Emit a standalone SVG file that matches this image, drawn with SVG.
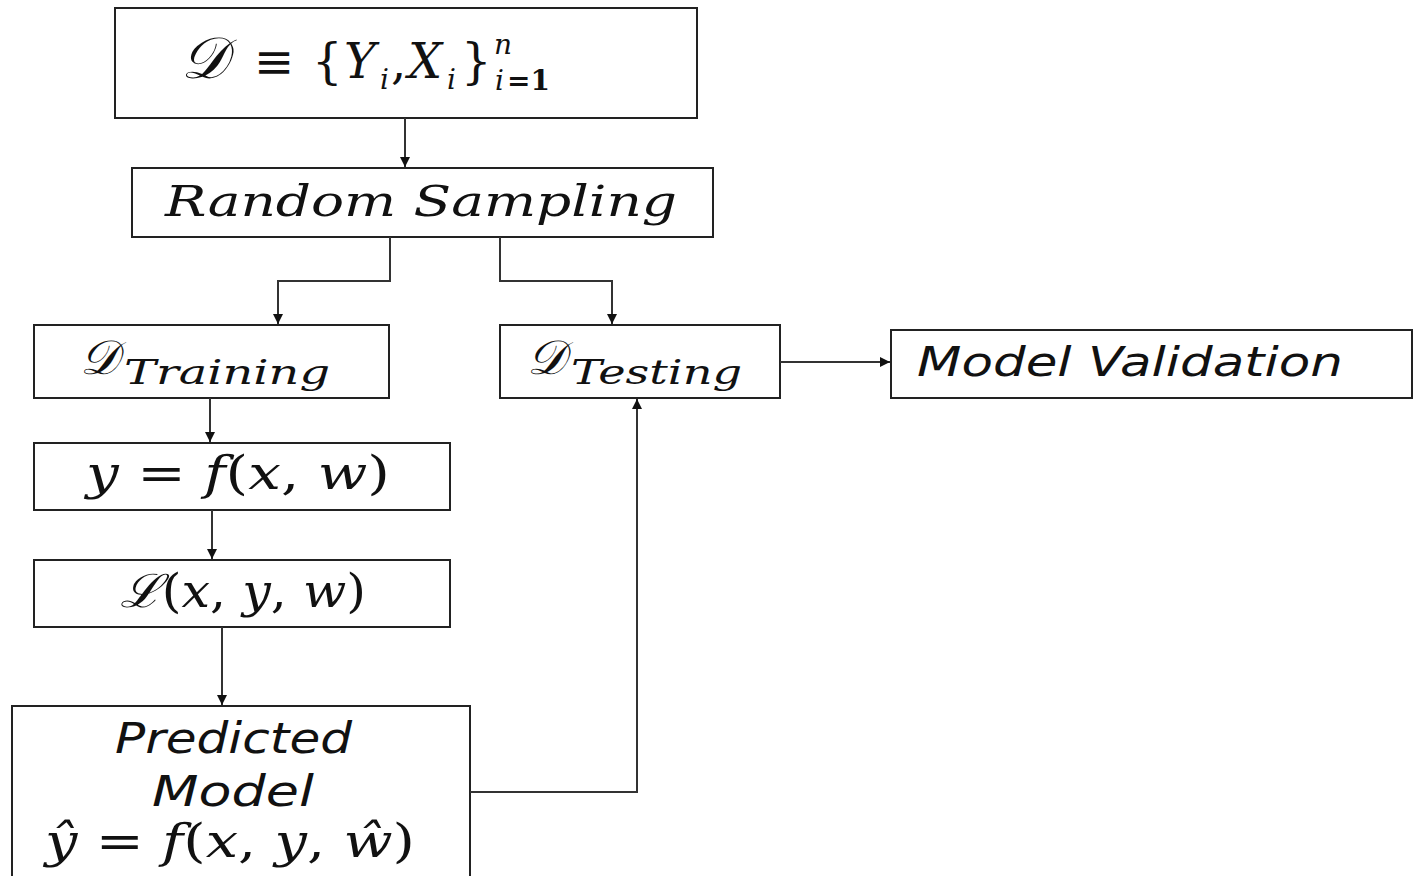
<svg xmlns="http://www.w3.org/2000/svg" width="1416" height="876" viewBox="0 0 1416 876">
  <defs>
    <marker id="arrow" viewBox="0 0 10 10" refX="10" refY="5" markerWidth="10" markerHeight="10" markerUnits="userSpaceOnUse" orient="auto">
      <path d="M0,0 L10,5 L0,10 z" fill="#111"/>
    </marker>
    <style>
      .box { fill: #fff; stroke: #222; stroke-width: 2; }
      .edge { fill: none; stroke: #333; stroke-width: 2; }
      .math { font-family: "DejaVu Serif", "Liberation Serif", serif; font-style: italic; fill: #111; }
      .up { font-family: "DejaVu Serif", "Liberation Serif", serif; font-style: normal; fill: #111; }
      .sans { font-family: "DejaVu Sans", "Liberation Sans", sans-serif; font-style: italic; fill: #111; }
    </style>
  </defs>
  <rect width="1416" height="876" fill="#fff"/>

  <g id="dataset">
    <rect class="box" x="115" y="8" width="582" height="110"/>
    <text font-size="48">
      <tspan class="math" font-size="58" x="181" y="78">𝒟</tspan>
      <tspan class="up" x="254" y="78">≡</tspan>
      <tspan class="up" x="312" y="78">{</tspan>
      <tspan class="math" x="344" y="78">Y</tspan>
      <tspan class="math" font-size="28" x="380" y="89">i</tspan>
      <tspan class="up" x="391" y="78">,</tspan>
      <tspan class="math" x="408" y="78">X</tspan>
      <tspan class="math" font-size="28" x="447" y="89">i</tspan>
      <tspan class="up" x="461" y="78">}</tspan>
      <tspan class="math" font-size="28" x="494" y="54">n</tspan>
      <tspan class="math" font-size="28" x="495" y="90">i</tspan>
      <tspan class="up" font-size="28" font-weight="bold" x="507" y="90">=1</tspan>
    </text>
  </g>

  <g id="random-sampling">
    <rect class="box" x="132" y="168" width="581" height="69"/>
    <text class="math" x="165" y="216" font-size="42" textLength="512" lengthAdjust="spacingAndGlyphs">Random Sampling</text>
  </g>

  <g id="training">
    <rect class="box" x="34" y="325" width="355" height="73"/>
    <text font-size="48"><tspan class="math" x="80" y="374">𝒟</tspan><tspan class="math" font-size="34" x="124" y="384" textLength="206" lengthAdjust="spacingAndGlyphs">Training</tspan></text>
  </g>

  <g id="testing">
    <rect class="box" x="500" y="325" width="280" height="73"/>
    <text font-size="48"><tspan class="math" x="527" y="374">𝒟</tspan><tspan class="math" font-size="34" x="571" y="384" textLength="171" lengthAdjust="spacingAndGlyphs">Testing</tspan></text>
  </g>

  <g id="model-validation">
    <rect class="box" x="891" y="330" width="521" height="68"/>
    <text class="sans" x="917" y="376" font-size="40" textLength="426" lengthAdjust="spacingAndGlyphs">Model Validation</text>
  </g>

  <g id="model-function">
    <rect class="box" x="34" y="443" width="416" height="67"/>
    <text class="math" x="86" y="489" font-size="46" textLength="304" lengthAdjust="spacingAndGlyphs">y <tspan class="up">=</tspan> f<tspan class="up">(</tspan>x<tspan class="up">,</tspan> w<tspan class="up">)</tspan></text>
  </g>

  <g id="loss">
    <rect class="box" x="34" y="560" width="416" height="67"/>
    <text class="math" x="120" y="607" font-size="46" textLength="246" lengthAdjust="spacingAndGlyphs">ℒ<tspan class="up">(</tspan>x<tspan class="up">,</tspan> y<tspan class="up">,</tspan> w<tspan class="up">)</tspan></text>
  </g>

  <g id="predicted-model">
    <rect class="box" x="12" y="706" width="458" height="180"/>
    <text class="sans" x="115" y="753" font-size="42" textLength="237" lengthAdjust="spacingAndGlyphs">Predicted</text>
    <text class="sans" x="152" y="806" font-size="42" textLength="162" lengthAdjust="spacingAndGlyphs">Model</text>
    <text class="math" x="45" y="857" font-size="46" textLength="370" lengthAdjust="spacingAndGlyphs">ŷ <tspan class="up">=</tspan> f<tspan class="up">(</tspan>x<tspan class="up">,</tspan> y<tspan class="up">,</tspan> ŵ<tspan class="up">)</tspan></text>
  </g>

  <g id="connectors">
    <path class="edge" d="M405,118 V167" marker-end="url(#arrow)"/>
    <path class="edge" d="M390,237 V281 H278 V324" marker-end="url(#arrow)"/>
    <path class="edge" d="M500,237 V281 H612 V324" marker-end="url(#arrow)"/>
    <path class="edge" d="M780,362 H890" marker-end="url(#arrow)"/>
    <path class="edge" d="M210,398 V442" marker-end="url(#arrow)"/>
    <path class="edge" d="M212,510 V559" marker-end="url(#arrow)"/>
    <path class="edge" d="M222,627 V705" marker-end="url(#arrow)"/>
    <path class="edge" d="M470,792 H637 V399" marker-end="url(#arrow)"/>
  </g>
</svg>
